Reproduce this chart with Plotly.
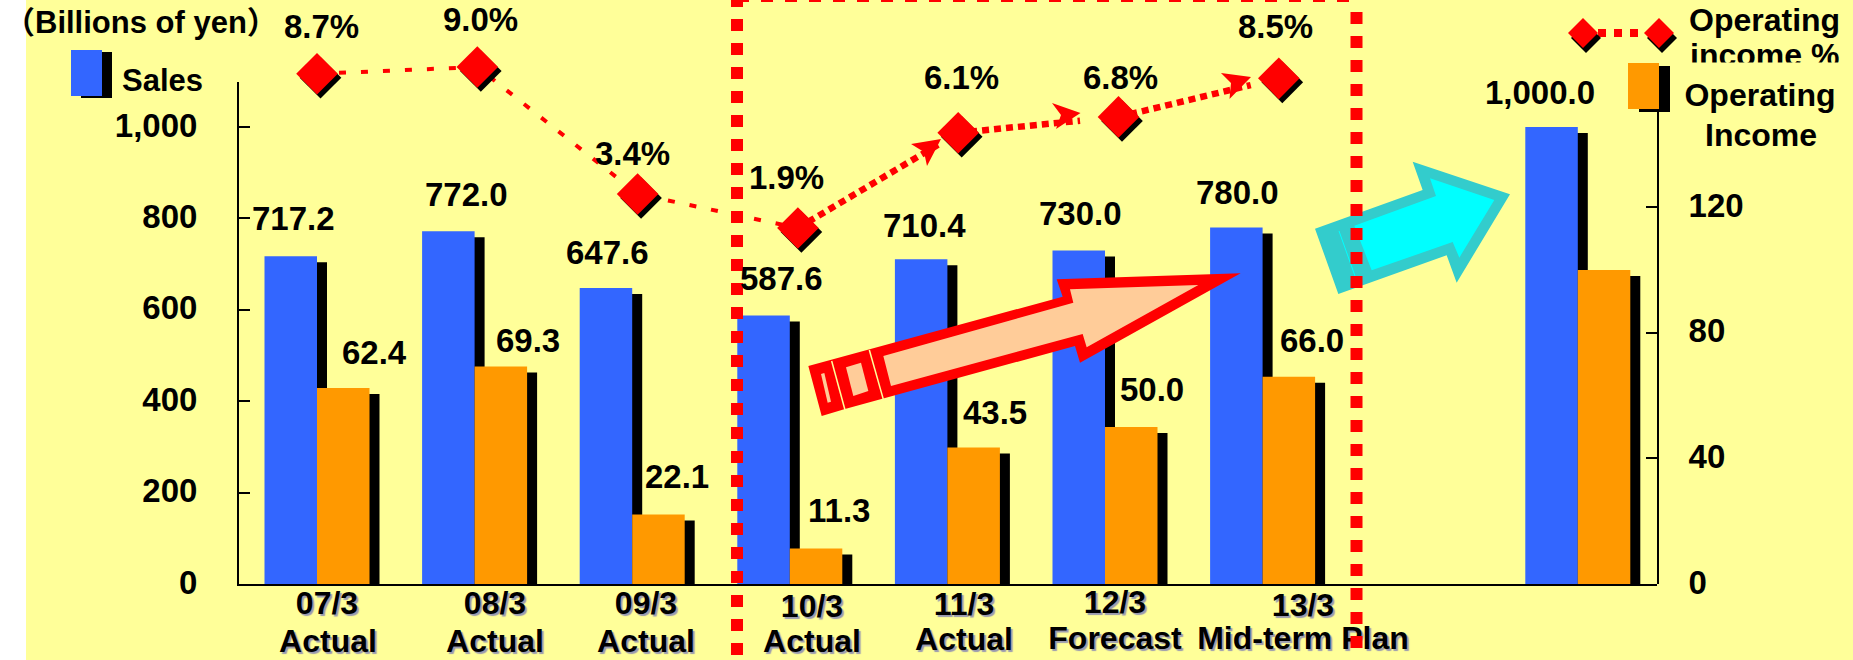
import plotly.graph_objects as go

W, H = 1853, 660

# ---------- data ----------
groups = [0, 1, 2, 3, 4, 5, 6, 8]
sales = [717.2, 772.0, 647.6, 587.6, 710.4, 730.0, 780.0, 1000.0]
op_income = [62.4, 69.3, 22.1, 11.3, 43.5, 50.0, 66.0, 100.0]
margin_idx = [0, 1, 2, 3, 4, 5, 6]
margin_pct = [8.7, 9.0, 3.4, 1.9, 6.1, 6.8, 8.5]
year_labels = ["07/3", "08/3", "09/3", "10/3", "11/3", "12/3", "13/3"]
kind_labels = ["Actual", "Actual", "Actual", "Actual", "Actual", "Forecast", "Mid-term Plan"]
left_ticks = [0, 200, 400, 600, 800, 1000]
right_ticks = [0, 40, 80, 120]

# ---------- style ----------
YELLOW, BLUE, ORANGE, RED = "#FFFF99", "#3366FF", "#FF9900", "#FF0000"
PEACH, CYAN, TEAL = "#FFCC99", "#00FFFF", "#33CCCC"
FAM = "Liberation Sans, Arial, Noto Sans CJK JP, sans-serif"
AX_L, AX_R, AX_B, AX_TL, AX_TR = 239, 1657, 584, 82, 112
SLOT, CENTER0 = 157.6, 317
LSLOT, LCENTER0 = 160.3, 317
PX_L, PX_R, PX_P = 0.457, 3.14, 22.68


def pad(x, y):
    return x / W, (H - y) / H


def poly(points, ox=0, oy=0, s=3.0):
    pts = [(ox + a / s, oy + b / s) for a, b in points]
    d = []
    for k, (a, b) in enumerate(pts):
        xx, yy = pad(a, b)
        d.append(("M" if k == 0 else "L") + f"{xx:.5f},{yy:.5f}")
    return " ".join(d) + " Z"


def path(points, fill, ox=0, oy=0, s=3.0):
    return dict(type="path", xref="paper", yref="paper", path=poly(points, ox, oy, s),
                fillcolor=fill, line=dict(width=0), layer="above")


def rect(x0, y0, x1, y1, fill, layer="above"):
    a, b = pad(x0, y0)
    c, d = pad(x1, y1)
    return dict(type="rect", xref="paper", yref="paper", x0=a, y0=b, x1=c, y1=d,
                fillcolor=fill, line=dict(width=0), layer=layer)


def seg(x0, y0, x1, y1, color, width, dash=None, layer="above"):
    a, b = pad(x0, y0)
    c, d = pad(x1, y1)
    ln = dict(color=color, width=width)
    if dash:
        ln["dash"] = dash
    return dict(type="line", xref="paper", yref="paper", x0=a, y0=b, x1=c, y1=d, line=ln, layer=layer)


def diamond(cx, cy, r, fill):
    return path([(cx - r, cy), (cx, cy - r), (cx + r, cy), (cx, cy + r)], fill, s=1.0)


fig = go.Figure()

sx = 10 / SLOT
bw = 52.5 / SLOT
# sales bars
fig.add_bar(x=groups, y=sales, base=[-6 / PX_L] * len(sales), offset=-bw + sx, width=bw,
            marker=dict(color="black", line=dict(width=0)), xaxis="x", yaxis="y", cliponaxis=False)
fig.add_bar(x=groups, y=sales, offset=-bw, width=bw,
            marker=dict(color=BLUE, line=dict(width=0)), xaxis="x", yaxis="y", cliponaxis=False)
# operating income bars
fig.add_bar(x=groups, y=op_income, base=[-6 / PX_R] * len(op_income), offset=sx, width=bw,
            marker=dict(color="black", line=dict(width=0)), xaxis="x", yaxis="y2", cliponaxis=False)
fig.add_bar(x=groups, y=op_income, offset=0, width=bw,
            marker=dict(color=ORANGE, line=dict(width=0)), xaxis="x", yaxis="y2", cliponaxis=False)

# margin line
fig.add_scatter(x=margin_idx[:4], y=margin_pct[:4], mode="lines", xaxis="x2", yaxis="y3",
                line=dict(color=RED, width=4, dash="7px,15px"))
for i, f in zip([3, 4, 5], [0.88, 0.76, 0.825]):
    xs = [margin_idx[i], margin_idx[i] + f * (margin_idx[i + 1] - margin_idx[i])]
    ys = [margin_pct[i], margin_pct[i] + f * (margin_pct[i + 1] - margin_pct[i])]
    fig.add_scatter(x=xs, y=ys, mode="lines", xaxis="x2", yaxis="y3",
                    line=dict(color=RED, width=6.5, dash="7px,5px"))
fig.add_scatter(x=[v + 3.5 / LSLOT for v in margin_idx], y=[v - 4 / PX_P for v in margin_pct],
                mode="markers", xaxis="x2", yaxis="y3",
                marker=dict(symbol="diamond", size=32, color="black", line=dict(width=0)))
fig.add_scatter(x=margin_idx, y=margin_pct, mode="markers", xaxis="x2", yaxis="y3",
                marker=dict(symbol="diamond", size=32, color=RED, line=dict(width=0)))

# category labels (in a page-sized frame, so the dashed box passes over them)
year_xy = [(327, 606), (495, 606), (646, 606), (812, 609), (964, 607), (1115, 605), (1303, 608)]
kind_xy = [(328, 644), (495, 644), (646, 644), (812, 644), (964, 642), (1115, 641), (1303, 641)]
fig.add_scatter(x=[p[0] for p in year_xy + kind_xy], y=[p[1] for p in year_xy + kind_xy],
                text=year_labels + kind_labels, mode="text", textposition="middle center",
                textfont=dict(family=FAM, size=32, color="black", weight=700, shadow="2px 2px 1px #9a9ab0"),
                xaxis="x3", yaxis="y4", cliponaxis=False)

# ---------- shapes ----------
shapes = [rect(26, 0, W, H, YELLOW, layer="below")]

# arrowheads of the forecast line
shapes += [
    path([(941, 139), (911, 144), (924, 152), (927, 166)], RED, s=1.0),
    path([(1080.5, 113), (1052, 103), (1061, 115), (1056, 129)], RED, s=1.0),
    path([(1251, 77), (1221, 73), (1231, 83), (1229.5, 99)], RED, s=1.0),
]

# red arrow
RO = (790, 260)
shapes += [
    path([(55, 318), (818, 110), (800, 58), (1352, 40), (870, 308), (855, 258), (165, 447), (95, 468)], RED, *RO),
    path([(280, 288), (850, 128), (840, 88), (1225, 75), (890, 262), (878, 222), (303, 378)], PEACH, *RO),
    path([(168, 322), (213, 308), (235, 393), (190, 408)], PEACH, *RO),
    path([(93, 342), (103, 339), (123, 425), (113, 428)], PEACH, *RO),
    seg(790 + 125 / 3, 260 + 303 / 3, 790 + 165 / 3, 260 + 450 / 3, YELLOW, 1.5),
    seg(790 + 238 / 3, 260 + 270 / 3, 790 + 280 / 3, 260 + 418 / 3, YELLOW, 1.5),
]

# cyan arrow
CO = (1300, 150)
shapes += [
    path([(45, 236), (368, 120), (338, 35), (630, 133), (470, 398), (440, 316), (115, 432)], TEAL, *CO),
    path([(163, 227), (408, 138), (390, 85), (583, 150), (478, 323), (458, 276), (215, 361)], CYAN, *CO),
    seg(1300 + 117 / 3, 150 + 243 / 3, 1300 + 165 / 3, 150 + 378 / 3, CYAN, 1),
]

# dashed box
shapes += [
    seg(737, -5, 737, H, RED, 12, "12px,12px"),
    seg(1356.5, -12, 1356.5, H, RED, 12, "12px,12px"),
    seg(737, 0, 1356, 0, RED, 4, "12px,12px"),
]

# legend swatches
shapes += [
    rect(81, 52, 112, 98, "black"),
    rect(71, 50, 102, 96, BLUE),
    rect(1639, 66, 1670, 112, "black"),
    rect(1628, 63, 1659, 109, ORANGE),
    seg(1598, 33, 1640, 33, RED, 8, "8px,8px"),
    diamond(1586, 38, 15, "black"),
    diamond(1662, 38, 15, "black"),
    diamond(1583, 33, 15, RED),
    diamond(1659, 33, 15, RED),
]

# ---------- text ----------
ann = []


def label(text, x, y, size=32, **kw):
    xx, yy = pad(x, y)
    ann.append(dict(text=text, x=xx, y=yy, xref="paper", yref="paper", showarrow=False,
                    xanchor="center", yanchor="middle",
                    font=dict(family=FAM, size=size, color="black", weight=700), **kw))


pct_xy = [(321.5, 26), (480, 20), (632.6, 153), (786, 178), (961, 77), (1120, 77), (1275, 26)]
for v, (x, y) in zip(margin_pct, pct_xy):
    label(f"{v:.1f}%", x, y, 33)

sales_xy = [(293, 219), (466, 195), (607, 252), (781, 278), (924, 225), (1080.5, 213), (1237, 192), (1540, 93)]
for v, (x, y) in zip(sales, sales_xy):
    label(f"{v:,.1f}", x, y, 33)

income_xy = [(374, 352), (528, 340), (677, 477), (839, 510), (995, 412), (1152, 390), (1312, 341)]
for v, (x, y) in zip(op_income, income_xy):
    label(f"{v:.1f}", x, y, 33)

label("（Billions of yen）", 141, 23, 31)
label("Sales", 162, 81, 31)
label("Operating", 1764, 20)
label("income %", 1764, 55)
label("Operating", 1760, 95, bgcolor=YELLOW, width=160, height=62, valign="middle")
label("Income", 1761, 135)

tick_font = dict(family=FAM, size=33, color="black", weight=700)
axis_common = dict(showgrid=False, zeroline=False, showline=True, linecolor="black", linewidth=2,
                   ticks="inside", ticklen=11, tickwidth=2, tickcolor="black", tickfont=tick_font,
                   automargin=False, ticklabelshift=-2)
x_dom = [AX_L / W, AX_R / W]

fig.update_layout(
    width=W, height=H, margin=dict(l=0, r=0, t=0, b=0, pad=0), autosize=False,
    paper_bgcolor="white", plot_bgcolor="rgba(0,0,0,0)", showlegend=False, barmode="overlay",
    hovermode=False, shapes=shapes, annotations=ann,
    xaxis=dict(domain=x_dom, range=[(AX_L - CENTER0) / SLOT, (AX_R - CENTER0) / SLOT],
               showgrid=False, zeroline=False, showline=True, linecolor="black", linewidth=2,
               showticklabels=False, ticks="", anchor="y", automargin=False),
    yaxis=dict(domain=[(H - AX_B) / H, (H - AX_TL) / H], range=[0, (AX_B - AX_TL) / PX_L],
               tickvals=left_ticks, tickformat=",d", ticklabelstandoff=33, anchor="x", side="left", **axis_common),
    yaxis2=dict(domain=[(H - AX_B) / H, (H - AX_TR) / H], range=[0, (AX_B - AX_TR) / PX_R],
                tickvals=right_ticks, ticklabelstandoff=23, anchor="x", side="right", **axis_common),
    xaxis2=dict(domain=x_dom, range=[(AX_L - LCENTER0) / LSLOT, (AX_R - LCENTER0) / LSLOT],
                visible=False, anchor="y3", automargin=False),
    yaxis3=dict(domain=[0, 1], range=[9 - (H - 67) / PX_P, 9 + 67 / PX_P], visible=False, anchor="x2", automargin=False),
    xaxis3=dict(domain=[0, 1], range=[0, W], visible=False, anchor="y4", automargin=False),
    yaxis4=dict(domain=[0, 1], range=[H, 0], visible=False, anchor="x3", automargin=False),
)

fig.write_html("out.html", post_script="document.body.style.margin='0';document.body.style.overflow='hidden';",
               config=dict(displayModeBar=False))
